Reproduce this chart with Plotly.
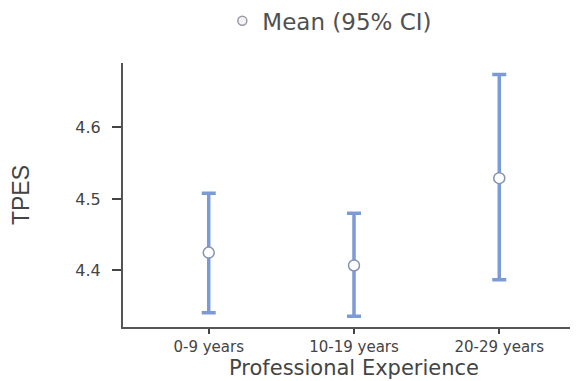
import plotly.graph_objects as go

categories = ["0-9 years", "10-19 years", "20-29 years"]
means = [4.425, 4.407, 4.529]
ci_upper = [4.508, 4.480, 4.674]
ci_lower = [4.341, 4.336, 4.387]
y_ticks = [4.4, 4.5, 4.6]

err_plus = [u - m for u, m in zip(ci_upper, means)]
err_minus = [m - l for m, l in zip(means, ci_lower)]

fig = go.Figure()
fig.add_trace(go.Scatter(
    x=list(range(len(categories))), y=means, mode="markers",
    name="Mean (95% CI)",
    marker=dict(symbol="circle", size=11, color="white",
                line=dict(color="#8593b0", width=1.5)),
    error_y=dict(type="data", symmetric=False, array=err_plus, arrayminus=err_minus,
                 color="#7c9bd6", thickness=3.5, width=7),
    showlegend=False,
))
# legend entry
fig.add_trace(go.Scatter(
    x=[None], y=[None], mode="markers", name="Mean (95% CI)",
    marker=dict(symbol="circle", size=9, color="#f4f4f8",
                line=dict(color="#9a9aa6", width=1.5)),
    showlegend=True,
))

font_fam = "DejaVu Sans, Liberation Sans, Arial, sans-serif"
fig.update_layout(
    width=578, height=381,
    margin=dict(l=115, r=1, t=55, b=62, autoexpand=False),
    paper_bgcolor="white", plot_bgcolor="white",
    font=dict(family=font_fam, color="#444444"),
    showlegend=True,
    legend=dict(orientation="h", x=0.215, xanchor="left", y=1.16, yref="paper",
                yanchor="middle", font=dict(size=23, color="#505050"),
                itemsizing="trace", bgcolor="rgba(0,0,0,0)"),
    xaxis=dict(
        range=[-0.59, 2.59], automargin=False,
        tickmode="array", tickvals=list(range(len(categories))), ticktext=categories,
        showline=True, linecolor="#555555", linewidth=2,
        ticks="outside", ticklen=5, tickwidth=2, tickcolor="#444444",
        showgrid=False, zeroline=False,
        tickfont=dict(size=15, color="#444444"),
        title=dict(text="Professional Experience", font=dict(size=21, color="#444444"), standoff=4),
    ),
    yaxis=dict(
        range=[4.321, 4.69], automargin=False,
        tickmode="array", tickvals=y_ticks, ticktext=[f"{v:.1f}" for v in y_ticks],
        showline=True, linecolor="#555555", linewidth=2,
        ticks="outside", ticklen=9, tickwidth=2, tickcolor="#444444",
        ticklabelstandoff=8,
        showgrid=False, zeroline=False,
        tickfont=dict(size=16, color="#444444"),
        title=dict(text="TPES", font=dict(size=23, color="#444444", family="Liberation Sans, Arial"), standoff=45),
    ),
)

fig.write_html("out.html")
